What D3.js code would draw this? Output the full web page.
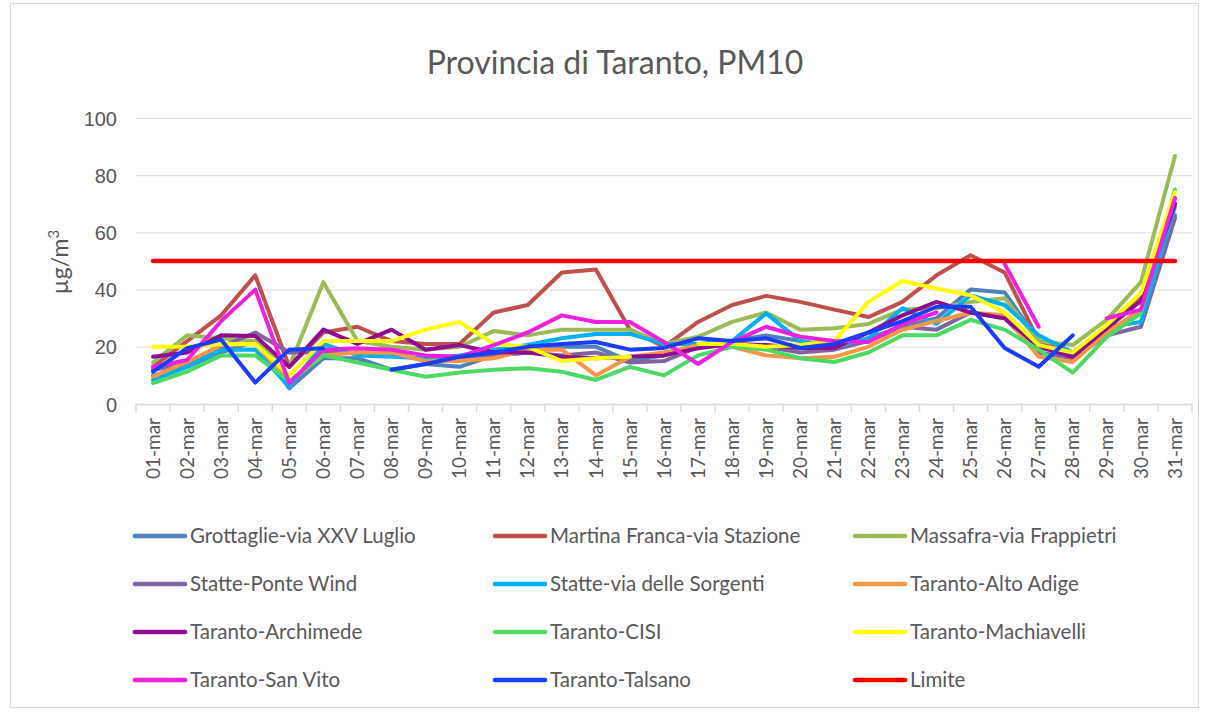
<!DOCTYPE html>
<html>
<head>
<meta charset="utf-8">
<script src="https://cdn.jsdelivr.net/npm/d3@7"></script>
<style>
  body { margin: 0; background: #fff; }
  svg { font-family: Lato, "Open Sans", sans-serif; }
</style>
</head>
<body>
<svg id="chart" width="1208" height="713"></svg>
<script>
// days of march, as on the category axis
var days = d3.range(1, 32).map(function(d) { return (d < 10 ? '0' + d : '' + d) + '-mar'; });
var yTicks = [0, 20, 40, 60, 80, 100];
var limite = 50;

// values (µg/m3), null = no data
var grottaglie = [10, 13, 18, 22, 5.5, 16, 16, 12, 14, 13, 17, 18, 20, 20, 15, 17, 20, 22, 24, 22, 20, 23, 27, 30, 40, 39, 22, 17, 24, 32, 66];
var martina    = [13, 22, 31, 45, 13, 25, 27, 22, 21, 21, 32, 34.6, 46, 47, 26, 20, 28.7, 34.6, 37.8, 35.7, 33, 30.4, 35.7, 45, 52, 46, 22, 18, 26, 38, 70];
var massafra   = [14.5, 24, 23, 22, 13, 42.6, 22, 20, 19, 20, 25.5, 24, 26, 26, 26, 21, 23.5, 28.7, 32, 26, 26.5, 28, 33, 33.5, 35.7, 37, 22, 20.6, 29.5, 42.6, 86.7];
var statteWind = [12, 14, 20, 25, 18, 18, 18, 18, 15, 16, 17, 18, 17, 18, 14.5, 15, 20, 21, 20, 18, 19, 22, 27, 26, 32, 30, 18, 16, 24, 27, 65];
var statteSorg = [8.4, 13, 19, 19, 6, 21, 17, 16.5, 16, 17, 19, 20.6, 23, 24.5, 24.5, 21, 21, 22, 31.7, 22, 20, 23, 33.5, 28, 38, 34.6, 24, 18, 27, 28.7, 69];
var altoAdige  = [9.6, 14.7, 20.6, 21, 8, 17, 18, 18, 15, 15, 16, 19, 19, 10, 16.5, 18, 20.6, 20, 17, 16, 16.5, 20, 26, 29, 32, 31, 16.5, 14.7, 25, 33, 72];
var archimede  = [16.5, 18, 24, 23.8, 13, 26, 21, 26, 19, 20.6, 18, 18, 16.5, 16, 16.5, 17, 19.5, 21, 20.6, 19.6, 19.6, 25, 31, 35.7, 32, 30, 20, 16.5, 26.5, 36, 70];
var cisi       = [7.3, 11.3, 17, 17, 8, 17, 14.5, 12, 9.5, 11, 12, 12.5, 11.3, 8.4, 13, 10, 17, 20, 19, 16, 14.7, 18, 24, 24, 29.4, 26, 19, 11, 23.5, 31.7, 75];
var machiavelli = [20, 20, 21, 21, 10, 22, 22, 22, 26, 28.7, 21, 20, 15, 16, 16.5, null, 21, 21, 20, 20.6, 22, 35.7, 43, 40.4, 38, 32, 20.6, 18, 27.6, 38.8, 74];
var sanVito    = [13, 15.4, 29, 40, 7.3, 19, 19.5, 19, 17, 16.5, 20.6, 25, 31, 28.7, 28.7, 21.7, 14, 21.7, 27, 23.5, 22, 21.7, 28, 32, null, 49, 27, null, 30, 33, 72];
var talsano    = [11.3, 19.5, 22.5, 7.5, 19, 19.5, null, 12, 14, 16.5, 18, 20, 21, 21.7, 19, 19.6, 23, 22, 23, 19.6, 21, 25, 29, 34, 34, 19.6, 13, 24, null, null, null];

var series = [
  { name: 'Grottaglie-via XXV Luglio', color: '#4f81bd', values: grottaglie },
  { name: 'Martina Franca-via Stazione', color: '#c0504d', values: martina },
  { name: 'Massafra-via Frappietri', color: '#9bbb59', values: massafra },
  { name: 'Statte-Ponte Wind', color: '#8064a2', values: statteWind },
  { name: 'Statte-via delle Sorgenti', color: '#00b0f0', values: statteSorg },
  { name: 'Taranto-Alto Adige', color: '#f79646', values: altoAdige },
  { name: 'Taranto-Archimede', color: '#8e0c8e', values: archimede },
  { name: 'Taranto-CISI', color: '#4cd964', values: cisi },
  { name: 'Taranto-Machiavelli', color: '#ffff00', values: machiavelli },
  { name: 'Taranto-San Vito', color: '#f020e0', values: sanVito },
  { name: 'Taranto-Talsano', color: '#1a3cff', values: talsano },
  { name: 'Limite', color: '#ff0000', values: days.map(function() { return limite; }) }
];

var svg = d3.select('#chart');
var textColor = '#595959';
var gridColor = '#d9d9d9';
var plot = { left: 136, right: 1192, top: 118, bottom: 404 };

// chart frame
svg.append('rect')
  .attr('x', 10.5).attr('y', 3.5)
  .attr('width', 1188).attr('height', 704)
  .attr('fill', 'none').attr('stroke', gridColor);

var x = d3.scaleBand().domain(days).range([plot.left, plot.right]);
var y = d3.scaleLinear().domain([0, 100]).range([plot.bottom, plot.top]);

// grid
svg.append('g')
  .selectAll('line')
  .data(yTicks.filter(function(t) { return t > 0; }))
  .join('line')
  .attr('x1', plot.left).attr('x2', plot.right)
  .attr('y1', function(d) { return y(d) + 0.5; })
  .attr('y2', function(d) { return y(d) + 0.5; })
  .attr('stroke', gridColor).attr('stroke-width', 1);

// y axis labels
var yAxis = svg.append('g')
  .attr('transform', 'translate(' + (plot.left - 19) + ',0)')
  .call(d3.axisLeft(y).tickValues(yTicks).tickSize(0).tickPadding(0));
yAxis.select('.domain').remove();
yAxis.selectAll('text')
  .attr('fill', textColor)
  .style('font-size', '20px')
  .attr('dy', '0.35em');

// x axis with tick marks at category boundaries
svg.append('line')
  .attr('x1', plot.left).attr('x2', plot.right)
  .attr('y1', plot.bottom + 0.5).attr('y2', plot.bottom + 0.5)
  .attr('stroke', gridColor).attr('stroke-width', 1.5);

svg.append('g')
  .selectAll('line')
  .data(d3.range(days.length + 1))
  .join('line')
  .attr('x1', function(i) { return plot.left + i * x.step(); })
  .attr('x2', function(i) { return plot.left + i * x.step(); })
  .attr('y1', plot.bottom).attr('y2', plot.bottom + 8)
  .attr('stroke', gridColor).attr('stroke-width', 1.5);

svg.append('g')
  .selectAll('text')
  .data(days)
  .join('text')
  .attr('transform', function(d) {
    return 'translate(' + (x(d) + x.bandwidth() / 2) + ',' + (plot.bottom + 14) + ') rotate(-90)';
  })
  .attr('text-anchor', 'end')
  .attr('dy', '0.35em')
  .attr('fill', textColor)
  .style('font-size', '19px')
  .text(function(d) { return d; });

// y title
svg.append('text')
  .attr('transform', 'translate(68,262) rotate(-90)')
  .attr('text-anchor', 'middle')
  .attr('fill', textColor)
  .style('font-size', '23px')
  .html('µg/m<tspan dy="-9" font-size="15px">3</tspan>');

// title
svg.append('text')
  .attr('x', 615).attr('y', 74)
  .attr('text-anchor', 'middle')
  .attr('fill', textColor)
  .style('font-size', '32px')
  .text('Provincia di Taranto, PM10');

// lines
var line = d3.line()
  .defined(function(d) { return d != null; })
  .x(function(d, i) { return x(days[i]) + x.bandwidth() / 2; })
  .y(function(d) { return y(d); });

svg.append('g')
  .selectAll('path')
  .data(series)
  .join('path')
  .attr('d', function(s) { return line(s.values); })
  .attr('fill', 'none')
  .attr('stroke', function(s) { return s.color; })
  .attr('stroke-width', function(s) { return s.name === 'Limite' ? 4.5 : 4; })
  .attr('stroke-linejoin', 'round')
  .attr('stroke-linecap', 'round');

// legend, 3 columns
var legend = svg.append('g')
  .selectAll('g')
  .data(series)
  .join('g')
  .attr('transform', function(s, i) {
    return 'translate(' + (135 + (i % 3) * 360) + ',' + (536 + Math.floor(i / 3) * 48) + ')';
  });

legend.append('line')
  .attr('x1', 0).attr('x2', 50)
  .attr('stroke', function(s) { return s.color; })
  .attr('stroke-width', 4.5)
  .attr('stroke-linecap', 'round');

legend.append('text')
  .attr('x', 55).attr('dy', '0.35em')
  .attr('fill', textColor)
  .style('font-size', '20.5px')
  .text(function(s) { return s.name; });
</script>
</body>
</html>
